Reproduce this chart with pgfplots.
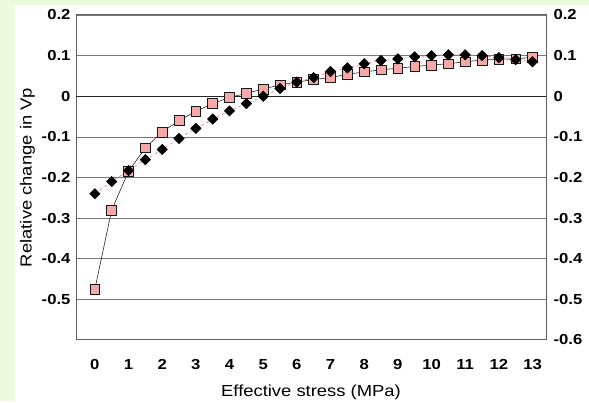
\documentclass[border=0pt]{standalone}
\usepackage{fontspec}
\setmainfont{Liberation Sans}[FakeStretch=1.15]
\usepackage{pgfplots}
\usepackage{pgfplotstable}
\pgfplotsset{compat=1.18}
\definecolor{bggreen}{RGB}{238,250,221}
\definecolor{sqfill}{RGB}{244,168,168}
\definecolor{gridc}{RGB}{95,95,95}
\definecolor{dashc}{RGB}{232,140,140}

% x = effective stress (MPa), sq = squares series, di = diamonds series
\pgfplotstableread{
x     sq      di
0    -0.475  -0.240
0.5  -0.280  -0.210
1    -0.185  -0.183
1.5  -0.127  -0.156
2    -0.088  -0.131
2.5  -0.060  -0.104
3    -0.037  -0.079
3.5  -0.018  -0.056
4    -0.003  -0.036
4.5   0.007  -0.018
5     0.018   0.000
5.5   0.028   0.019
6     0.035   0.035
6.5   0.041   0.046
7     0.046   0.061
7.5   0.054   0.070
8     0.060   0.080
8.5   0.065   0.088
9     0.069   0.092
9.5   0.073   0.097
10    0.077   0.100
10.5  0.080   0.102
11    0.085   0.102
11.5  0.089   0.100
12    0.091   0.095
12.5  0.092   0.090
13    0.096   0.085
}\vpdata

\begin{document}
\begin{tikzpicture}
\fill[bggreen] (0pt,0pt) rectangle (589pt,401pt);
\fill[white] (15pt,0pt) rectangle (589pt,396pt);
\pgfplotsset{
  common/.style={
    at={(76pt,61pt)}, anchor=south west,
    width=470pt, height=325pt, scale only axis,
    xmin=-0.56, xmax=13.4, ymin=-0.6, ymax=0.2,
    major tick length=0pt,
    axis line style={gridc, line width=1pt},
    tick label style={font=\fontsize{14.5}{16}\selectfont\bfseries},
    /pgf/number format/assume math mode=true,
  }
}
\begin{axis}[common,
  xtick={0,1,...,13},
  xticklabel style={yshift=-16pt},
  ytick={-0.5,-0.4,-0.3,-0.2,-0.1,0,0.1,0.2},
  yticklabels={-0.5,-0.4,-0.3,-0.2,-0.1,0,0.1,0.2},
  yticklabel style={xshift=-2pt},
  ymajorgrids,
  grid style={gridc!85, line width=0.7pt},
  extra y ticks={0},
  extra y tick labels={},
  extra y tick style={grid style={black!85, line width=1.4pt}},
  xlabel={Effective stress (MPa)},
  ylabel={Relative change in Vp},
  label style={font=\fontsize{16}{18}\selectfont},
  xlabel style={yshift=-8pt},
  ylabel style={yshift=0pt},
  clip=false,
]
\addplot[gray!30!black, line width=0.6pt,
  mark=square*, mark size=4.9pt,
  mark options={fill=sqfill, draw=gray!20!black, line width=0.6pt, solid}]
  table[x=x, y=sq] {\vpdata};
\addplot[dashc, dashed, line width=0.7pt,
  mark=square*, mark size=3.6pt,
  mark options={fill=black, draw=black, solid, rotate=45}]
  table[x=x, y=di] {\vpdata};
\end{axis}
\begin{axis}[common,
  axis y line*=right, axis x line=none,
  ytick={-0.6,-0.5,-0.4,-0.3,-0.2,-0.1,0,0.1,0.2},
  yticklabels={-0.6,-0.5,-0.4,-0.3,-0.2,-0.1,0,0.1,0.2},
  yticklabel style={xshift=4pt},
]
\end{axis}
\end{tikzpicture}
\end{document}
